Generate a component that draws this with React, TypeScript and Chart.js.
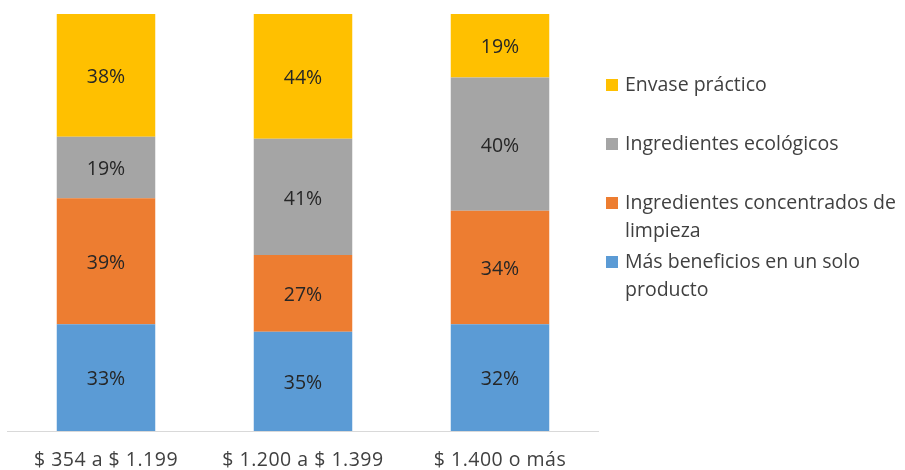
import React, { useEffect, useRef } from "react";
import { Chart, registerables } from "chart.js";

Chart.register(...registerables);

// ---- data ----
const categories = ["$ 354 a $ 1.199", "$ 1.200 a $ 1.399", "$ 1.400 o más"];
const masBeneficios = [33, 35, 32];
const concentrados = [39, 27, 34];
const ecologicos = [19, 41, 40];
const envase = [38, 44, 19];
const seriesNames = [
  "Más beneficios en un solo producto",
  "Ingredientes concentrados de limpieza",
  "Ingredientes ecológicos",
  "Envase práctico",
];

const FONT = "'Open Sans', Lato, sans-serif";
const COLORS = ["#5B9BD5", "#ED7D31", "#A5A5A5", "#FFC000"];

const seriesValues = [masBeneficios, concentrados, ecologicos, envase];
const totals = categories.map((_, i) => seriesValues.reduce((s, arr) => s + arr[i], 0));

const spacingPlugin = {
  id: "tickSpacing",
  beforeDraw(chart: any) {
    try {
      chart.ctx.letterSpacing = "0.5px";
    } catch (e) {}
  },
  afterDraw(chart: any) {
    try {
      chart.ctx.letterSpacing = "0px";
    } catch (e) {}
  },
};

const labelPlugin = {
  id: "segLabels",
  afterDatasetsDraw(chart: any) {
    const ctx = chart.ctx;
    ctx.save();
    try {
      ctx.letterSpacing = "0px";
    } catch (e) {}
    ctx.font = `19.5px ${FONT}`;
    ctx.fillStyle = "#262626";
    ctx.textAlign = "center";
    ctx.textBaseline = "middle";
    chart.data.datasets.forEach((ds: any, di: number) => {
      const meta = chart.getDatasetMeta(di);
      meta.data.forEach((el: any, i: number) => {
        const y = (el.y + el.base) / 2;
        ctx.fillText(`${ds.rawValues[i]}%`, el.x, y + 2);
      });
    });
    ctx.restore();
  },
};

function ChartCanvas() {
  const ref = useRef<HTMLCanvasElement | null>(null);
  useEffect(() => {
    if (!ref.current) return;
    const chart = new Chart(ref.current, {
      type: "bar",
      data: {
        labels: categories,
        datasets: seriesValues.map((vals, si) => ({
          label: seriesNames[si],
          data: vals.map((v, i) => (v / totals[i]) * 100),
          rawValues: vals,
          backgroundColor: COLORS[si],
          borderWidth: 0,
          categoryPercentage: 1,
          barPercentage: 0.5,
        })) as any,
      },
      options: {
        animation: false,
        responsive: false,
        maintainAspectRatio: false,
        devicePixelRatio: 1,
        layout: { padding: { left: 7.5, right: 306.5, top: 14, bottom: 0 } },
        plugins: {
          legend: { display: false },
          tooltip: { enabled: false },
        },
        scales: {
          x: {
            stacked: true,
            grid: { display: false, drawTicks: false },
            border: { display: true, color: "#D9D9D9", width: 1 },
            ticks: {
              color: "#404040",
              font: { family: FONT, size: 19.5 },
              padding: 18,
              maxRotation: 0,
            },
            afterFit(scale: any) {
              scale.height = 39;
            },
          },
          y: {
            stacked: true,
            display: false,
            min: 0,
            max: 100,
          },
        },
      },
      plugins: [spacingPlugin, labelPlugin],
    });
    return () => chart.destroy();
  }, []);
  return <canvas ref={ref} width={905} height={470} style={{ position: "absolute", left: 0, top: 0 }} />;
}

export default function App() {
  const legendOrder = [3, 2, 1, 0];
  return (
    <div
      style={{
        position: "fixed",
        left: 0,
        top: 0,
        width: 905,
        height: 470,
        background: "#fff",
        overflow: "hidden",
      }}
    >
      <ChartCanvas />
      <div
        style={{
          position: "absolute",
          left: 606,
          top: 70,
          width: 299,
          fontFamily: FONT,
          fontSize: 19.5,
          color: "#404040",
          lineHeight: "28px",
        }}
      >
        {legendOrder.map((si) => (
          <div key={si} style={{ height: 59, display: "flex", alignItems: "flex-start" }}>
            <span
              style={{
                display: "inline-block",
                width: 12,
                height: 12,
                background: COLORS[si],
                marginTop: 9,
                marginRight: 7,
                flex: "0 0 auto",
              }}
            />
            <span style={{ flex: "1 1 auto" }}>{seriesNames[si]}</span>
          </div>
        ))}
      </div>
    </div>
  );
}
